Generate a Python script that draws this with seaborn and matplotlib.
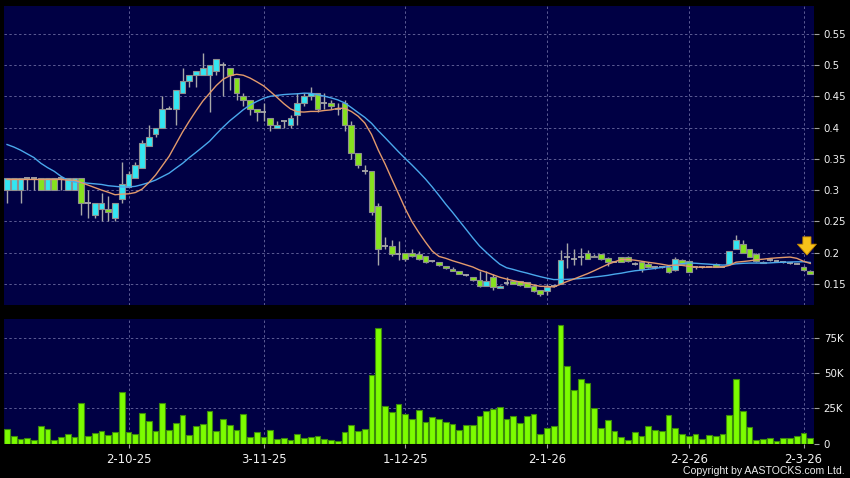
import numpy as np
import pandas as pd
import matplotlib
matplotlib.use("Agg")
import matplotlib.pyplot as plt
import seaborn as sns

# ---------------- data ----------------
opens = [0.30, 0.30, 0.30, 0.32, 0.32, 0.32, 0.30, 0.32, 0.32, 0.30,
         0.30, 0.32, 0.28, 0.26, 0.27, 0.27, 0.255, 0.285, 0.305, 0.32,
         0.335, 0.37, 0.39, 0.40, 0.43, 0.43, 0.455, 0.475, 0.485, 0.485,
         0.485, 0.49, 0.50, 0.495, 0.48, 0.45, 0.445, 0.43, 0.425, 0.415,
         0.40, 0.41, 0.405, 0.42, 0.44, 0.45, 0.455, 0.44, 0.44, 0.43,
         0.44, 0.405, 0.36, 0.33, 0.33, 0.275, 0.21, 0.21, 0.198, 0.20,
         0.20, 0.197, 0.195, 0.186, 0.185, 0.178, 0.174, 0.171, 0.164, 0.16,
         0.156, 0.146, 0.16, 0.143, 0.151, 0.155, 0.155, 0.152, 0.146, 0.14,
         0.138, 0.146, 0.15, 0.192, 0.19, 0.193, 0.20, 0.195, 0.197, 0.191,
         0.185, 0.192, 0.192, 0.182, 0.185, 0.182, 0.176, 0.176, 0.177, 0.172,
         0.188, 0.186, 0.176, 0.176, 0.177, 0.182, 0.177, 0.181, 0.205, 0.213,
         0.205, 0.198, 0.183, 0.188, 0.186, 0.184, 0.183, 0.182, 0.177, 0.171]
highs = [0.32, 0.32, 0.32, 0.32, 0.32, 0.32, 0.32, 0.32, 0.32, 0.32,
         0.32, 0.32, 0.30, 0.28, 0.295, 0.29, 0.28, 0.345, 0.33, 0.345,
         0.38, 0.405, 0.40, 0.45, 0.435, 0.46, 0.495, 0.485, 0.49, 0.52,
         0.50, 0.51, 0.505, 0.495, 0.48, 0.455, 0.445, 0.43, 0.44, 0.415,
         0.41, 0.41, 0.42, 0.455, 0.455, 0.465, 0.455, 0.455, 0.445, 0.44,
         0.445, 0.41, 0.36, 0.34, 0.33, 0.28, 0.225, 0.22, 0.218, 0.20,
         0.205, 0.202, 0.195, 0.187, 0.185, 0.179, 0.176, 0.171, 0.166, 0.16,
         0.17, 0.17, 0.165, 0.148, 0.16, 0.156, 0.155, 0.152, 0.149, 0.14,
         0.15, 0.148, 0.204, 0.215, 0.205, 0.208, 0.204, 0.197, 0.198, 0.193,
         0.186, 0.193, 0.194, 0.184, 0.186, 0.185, 0.178, 0.177, 0.178, 0.192,
         0.19, 0.187, 0.178, 0.177, 0.178, 0.183, 0.178, 0.203, 0.228, 0.22,
         0.205, 0.199, 0.186, 0.19, 0.188, 0.185, 0.184, 0.183, 0.178, 0.172]
lows = [0.28, 0.30, 0.28, 0.30, 0.30, 0.30, 0.30, 0.30, 0.30, 0.30,
        0.30, 0.26, 0.255, 0.255, 0.25, 0.25, 0.25, 0.28, 0.305, 0.32,
        0.335, 0.37, 0.385, 0.40, 0.43, 0.405, 0.455, 0.465, 0.465, 0.485,
        0.425, 0.485, 0.45, 0.46, 0.445, 0.435, 0.42, 0.41, 0.41, 0.395,
        0.40, 0.40, 0.40, 0.405, 0.435, 0.445, 0.425, 0.43, 0.43, 0.42,
        0.395, 0.35, 0.335, 0.325, 0.26, 0.18, 0.205, 0.195, 0.188, 0.186,
        0.193, 0.188, 0.183, 0.185, 0.178, 0.174, 0.17, 0.165, 0.163, 0.155,
        0.145, 0.146, 0.14, 0.143, 0.148, 0.149, 0.147, 0.144, 0.136, 0.13,
        0.132, 0.145, 0.15, 0.175, 0.18, 0.18, 0.19, 0.192, 0.188, 0.178,
        0.184, 0.184, 0.185, 0.18, 0.168, 0.175, 0.174, 0.175, 0.167, 0.17,
        0.18, 0.168, 0.174, 0.175, 0.176, 0.176, 0.176, 0.18, 0.205, 0.199,
        0.192, 0.185, 0.183, 0.186, 0.185, 0.183, 0.182, 0.181, 0.171, 0.165]
closes = [0.32, 0.32, 0.32, 0.32, 0.32, 0.30, 0.32, 0.30, 0.32, 0.32,
          0.32, 0.28, 0.28, 0.28, 0.28, 0.265, 0.28, 0.31, 0.325, 0.34,
          0.375, 0.385, 0.40, 0.43, 0.43, 0.46, 0.475, 0.485, 0.49, 0.495,
          0.50, 0.51, 0.50, 0.485, 0.455, 0.445, 0.43, 0.425, 0.425, 0.405,
          0.405, 0.41, 0.415, 0.44, 0.45, 0.455, 0.43, 0.44, 0.435, 0.43,
          0.405, 0.36, 0.34, 0.33, 0.265, 0.205, 0.21, 0.198, 0.198, 0.19,
          0.195, 0.19, 0.185, 0.186, 0.18, 0.175, 0.171, 0.166, 0.164, 0.156,
          0.146, 0.155, 0.144, 0.147, 0.151, 0.15, 0.148, 0.145, 0.138, 0.134,
          0.145, 0.146, 0.188, 0.192, 0.19, 0.193, 0.19, 0.193, 0.189, 0.184,
          0.185, 0.185, 0.186, 0.182, 0.173, 0.176, 0.176, 0.176, 0.169, 0.19,
          0.181, 0.169, 0.176, 0.176, 0.177, 0.177, 0.177, 0.202, 0.22, 0.20,
          0.193, 0.186, 0.185, 0.188, 0.186, 0.184, 0.183, 0.182, 0.172, 0.166]
volume_k = [10.4, 5.7, 3.5, 4.0, 2.6, 12.3, 10.4, 2.6, 5.0, 7.0,
            4.7, 28.8, 5.7, 7.3, 9.0, 5.9, 8.5, 36.6, 8.0, 6.8,
            21.7, 16.0, 9.0, 28.8, 9.7, 14.9, 20.0, 6.4, 12.5, 13.7,
            23.4, 9.0, 17.5, 13.2, 9.7, 20.8, 4.7, 8.3, 4.5, 9.9,
            3.0, 4.0, 2.6, 6.8, 3.8, 4.5, 5.7, 3.3, 2.4, 2.1,
            8.0, 13.2, 9.0, 10.4, 48.6, 81.7, 26.9, 22.7, 28.3, 21.0,
            17.2, 23.8, 15.6, 18.9, 17.2, 15.6, 13.7, 9.7, 13.0, 13.0,
            19.8, 23.1, 24.3, 25.7, 17.2, 19.6, 14.6, 19.4, 20.8, 6.6,
            11.1, 12.5, 83.8, 55.0, 38.2, 45.5, 42.7, 25.5, 11.1, 16.8,
            9.2, 4.5, 2.4, 8.5, 5.4, 12.5, 9.4, 8.7, 20.5, 11.1,
            6.6, 5.4, 7.1, 3.5, 5.9, 5.2, 6.8, 20.5, 45.8, 23.4,
            11.6, 2.4, 3.5, 4.2, 2.1, 3.8, 3.8, 5.2, 7.6, 3.8]
# moving-average values at the start of the window (earlier history not shown)
ma10_head = [0.317, 0.317, 0.317, 0.317, 0.317, 0.317, 0.317, 0.317, 0.317]
ma20_head = [0.373, 0.369, 0.364, 0.358, 0.352, 0.343, 0.336, 0.330, 0.322,
             0.316, 0.313, 0.312, 0.311, 0.310, 0.309, 0.307, 0.306, 0.305, 0.305]

date_tick_idx = [18, 38, 59, 80, 101, 118]
date_tick_labels = ["2-10-25", "3-11-25", "1-12-25", "2-1-26", "2-2-26", "2-3-26"]
price_ticks = [0.15, 0.2, 0.25, 0.3, 0.35, 0.4, 0.45, 0.5, 0.55]
price_tick_labels = ["0.15", "0.2", "0.25", "0.3", "0.35", "0.4", "0.45", "0.5", "0.55"]
vol_ticks = [0, 25, 50, 75]
vol_tick_labels = ["0", "25K", "50K", "75K"]

# ---------------- derived ----------------
df = pd.DataFrame({"o": opens, "h": highs, "l": lows, "c": closes, "v": volume_k})
df["i"] = np.arange(len(df))
ma10 = df["c"].rolling(10).mean()
ma10.iloc[:len(ma10_head)] = ma10_head
ma20 = df["c"].rolling(20).mean()
ma20.iloc[:len(ma20_head)] = ma20_head
df["ma10"] = ma10
df["ma20"] = ma20

# ---------------- style ----------------
BG = "#000000"
PANEL = "#000044"
GRID = "#5c5c94"
CYAN = "#33E6F2"
GREEN = "#86E21E"
WICK = "#a8a8a8"
VOL = "#7CFC00"

plt.rcParams["font.family"] = ["DejaVu Sans"]

fig = plt.figure(figsize=(8.5, 4.78), dpi=100, facecolor=BG)
W, H = 850.0, 478.0
ax1 = fig.add_axes([4 / W, 1 - 305 / H, 810 / W, 299 / H])
ax2 = fig.add_axes([4 / W, 1 - 444 / H, 810 / W, (444 - 318.5) / H])

for ax in (ax1, ax2):
    ax.set_facecolor(PANEL)
    for s in ax.spines.values():
        s.set_visible(False)
    ax.grid(True, color=GRID, linestyle=(0, (2.5, 2.5)), linewidth=0.7)
    ax.set_axisbelow(True)
    ax.yaxis.tick_right()
    ax.set_xlim(-0.45, 119.55)
    ax.set_xticks(date_tick_idx)

# ---------------- candles ----------------
up = df[df.c > df.o]
dn = df[df.c < df.o]
eq = df[df.c == df.o]
ax1.vlines(df.i, df.l, df.h, color=WICK, linewidth=1.0, zorder=2)
bw = 0.84
ax1.bar(up.i, up.c - up.o, bottom=up.o, width=bw, color=CYAN,
        edgecolor="#8f8f8f", linewidth=0.8, zorder=3)
ax1.bar(dn.i, dn.o - dn.c, bottom=dn.c, width=bw, color=GREEN,
        edgecolor="#8f8f8f", linewidth=0.8, zorder=3)
ax1.hlines(eq.o, eq.i - bw / 2, eq.i + bw / 2, color=WICK, linewidth=1.3, zorder=3)

sns.lineplot(data=df, x="i", y="ma20", color="#4aa8ec", linewidth=1.0, ax=ax1, zorder=4)
sns.lineplot(data=df, x="i", y="ma10", color="#e39a6c", linewidth=1.0, ax=ax1, zorder=4)

ax1.set_ylim(0.1159, 0.5949)
ax1.set_yticks(price_ticks)
ax1.set_yticklabels(price_tick_labels)
ax1.set_xticklabels([])
ax1.set_xlabel("")
ax1.set_ylabel("")
ax1.tick_params(axis="x", length=0)
ax1.tick_params(axis="y", direction="out", length=3.5, width=0.8, color="#a0a0a0",
                pad=3.5, labelsize=7.4, labelcolor="#f2f2f2")

# arrow marker at the latest bars
ax1.annotate("", xy=(118.5, 0.1915), xytext=(118.5, 0.2295),
             arrowprops=dict(arrowstyle="simple,head_length=0.6,head_width=1.05,tail_width=0.45",
                             fc="#F6C21A", ec="#C88A00", lw=0.6, mutation_scale=13),
             zorder=6)

# ---------------- volume ----------------
sns.barplot(data=df, x="i", y="v", native_scale=True, width=0.84, color=VOL,
            saturation=1, edgecolor="#3c8a0c", linewidth=0.8, errorbar=None, ax=ax2, zorder=3)
ax2.set_xlim(-0.45, 119.55)
ax2.set_ylim(-0.3, 88.7)
ax2.set_yticks(vol_ticks)
ax2.set_yticklabels(vol_tick_labels)
ax2.set_xticks(date_tick_idx)
ax2.set_xticklabels(date_tick_labels)
ax2.set_xlabel("")
ax2.set_ylabel("")
ax2.tick_params(axis="y", direction="out", length=3.5, width=0.8, color="#a0a0a0",
                pad=3.5, labelsize=7.4, labelcolor="#f2f2f2")
ax2.tick_params(axis="x", direction="out", length=3, width=0.8, color="#a0a0a0",
                pad=3.5, labelsize=8.4, labelcolor="#f2f2f2")

fig.text(845 / W, 1 - 471 / H, "Copyright by AASTOCKS.com Ltd.", ha="right", va="center",
         color="#ececec", fontsize=7.6, family=["Liberation Sans", "DejaVu Sans"])

fig.savefig("out.png", dpi=100, facecolor=BG)
